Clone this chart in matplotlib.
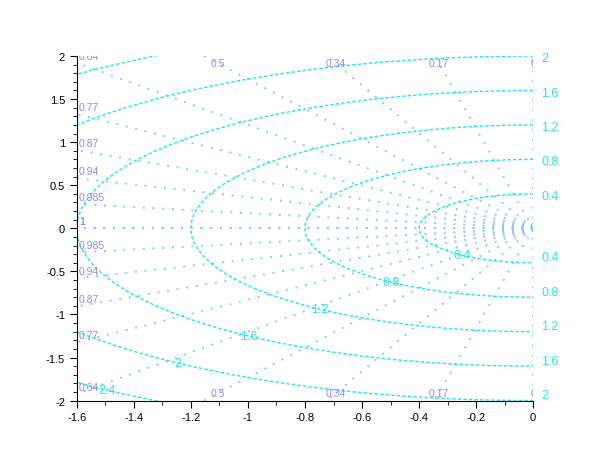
import numpy as np
import matplotlib
matplotlib.use('Agg')
import matplotlib.pyplot as plt
from matplotlib.ticker import MultipleLocator

plt.rcParams['font.family'] = ['Liberation Sans', 'DejaVu Sans']

# damping ratios and natural frequencies of the s-plane grid
zeta = [0, 0.17, 0.34, 0.5, 0.64, 0.77, 0.87, 0.94, 0.985, 1]
zeta_labels = ['0', '0.17', '0.34', '0.5', '0.64', '0.77', '0.87', '0.94', '0.985', '1']
wn = [0, 0.4, 0.8, 1.2, 1.6, 2, 2.4]
wn_labels = ['0', '0.4', '0.8', '1.2', '1.6', '2', '2.4']
xlim = (-1.6, 0)
ylim = (-2, 2)

ray_col = '#86c8ff'
circ_col = '#1ee6f0'
zlab_col = '#8f88ff'
wlab_col = '#1ee6f0'

fig = plt.figure(figsize=(6.1, 4.6), dpi=100)
ax = fig.add_axes([0.126, 0.127, 0.748, 0.749])
ax.set_xlim(*xlim)
ax.set_ylim(*ylim)

# natural frequency half circles
th = np.linspace(np.pi / 2, 3 * np.pi / 2, 300)
for w in wn[1:]:
    ax.plot(w * np.cos(th), w * np.sin(th), color=circ_col, lw=1.0,
            ls=(0, (2.5, 1.5)), zorder=2)

# damping ratio rays
R = 3.0
for z, lab in zip(zeta, zeta_labels):
    s = np.sqrt(1 - z ** 2)
    for sign in (1, -1):
        ax.plot([0, -R * z], [0, sign * R * s], color=ray_col, lw=1.4,
                ls=(0, (1, 4)), zorder=1)
        # where the ray leaves the box
        if z > 0 and s * abs(xlim[0]) / z <= ylim[1]:
            yc = sign * s * abs(xlim[0]) / z
            ax.annotate(lab, (xlim[0], yc), xytext=(1.5, 1.5), textcoords='offset points',
                        ha='left', va='bottom', fontsize=7.5, color=zlab_col,
                        annotation_clip=False, clip_on=True)
        else:
            yl = ylim[1] - 0.085
            xl = -yl * z / s
            ax.text(xl, sign * yl, lab, ha='center', va='center', fontsize=7.5,
                    color=zlab_col, clip_on=True)

# natural frequency labels along a ray and on the right
ang = np.deg2rad(51.5)
for w, lab in zip(wn, wn_labels):
    ax.text(-w * np.cos(ang), -w * np.sin(ang), lab, ha='center', va='center',
            fontsize=9, color=wlab_col, clip_on=True)
for w, lab in zip(wn[1:], wn_labels[1:]):
    if w <= ylim[1]:
        ax.annotate(lab, (0, w), xytext=(6, -1.5), textcoords='offset points',
                    ha='left', va='center', fontsize=9, color=wlab_col,
                    annotation_clip=False)
        ax.annotate(lab, (0, -w), xytext=(6, 4), textcoords='offset points',
                    ha='left', va='center', fontsize=9, color=wlab_col,
                    annotation_clip=False)

for sp in ('top', 'right'):
    ax.spines[sp].set_visible(False)
ax.xaxis.set_major_locator(MultipleLocator(0.2))
ax.xaxis.set_minor_locator(MultipleLocator(0.1))
ax.yaxis.set_major_locator(MultipleLocator(0.5))
ax.yaxis.set_minor_locator(MultipleLocator(0.1))
ax.tick_params(which='major', length=5, labelsize=8)
ax.tick_params(which='minor', length=3)
ax.set_xticklabels([('%g' % v) for v in ax.get_xticks()])
ax.set_yticklabels([('%g' % v) for v in ax.get_yticks()])

fig.savefig('out.png', dpi=100)
